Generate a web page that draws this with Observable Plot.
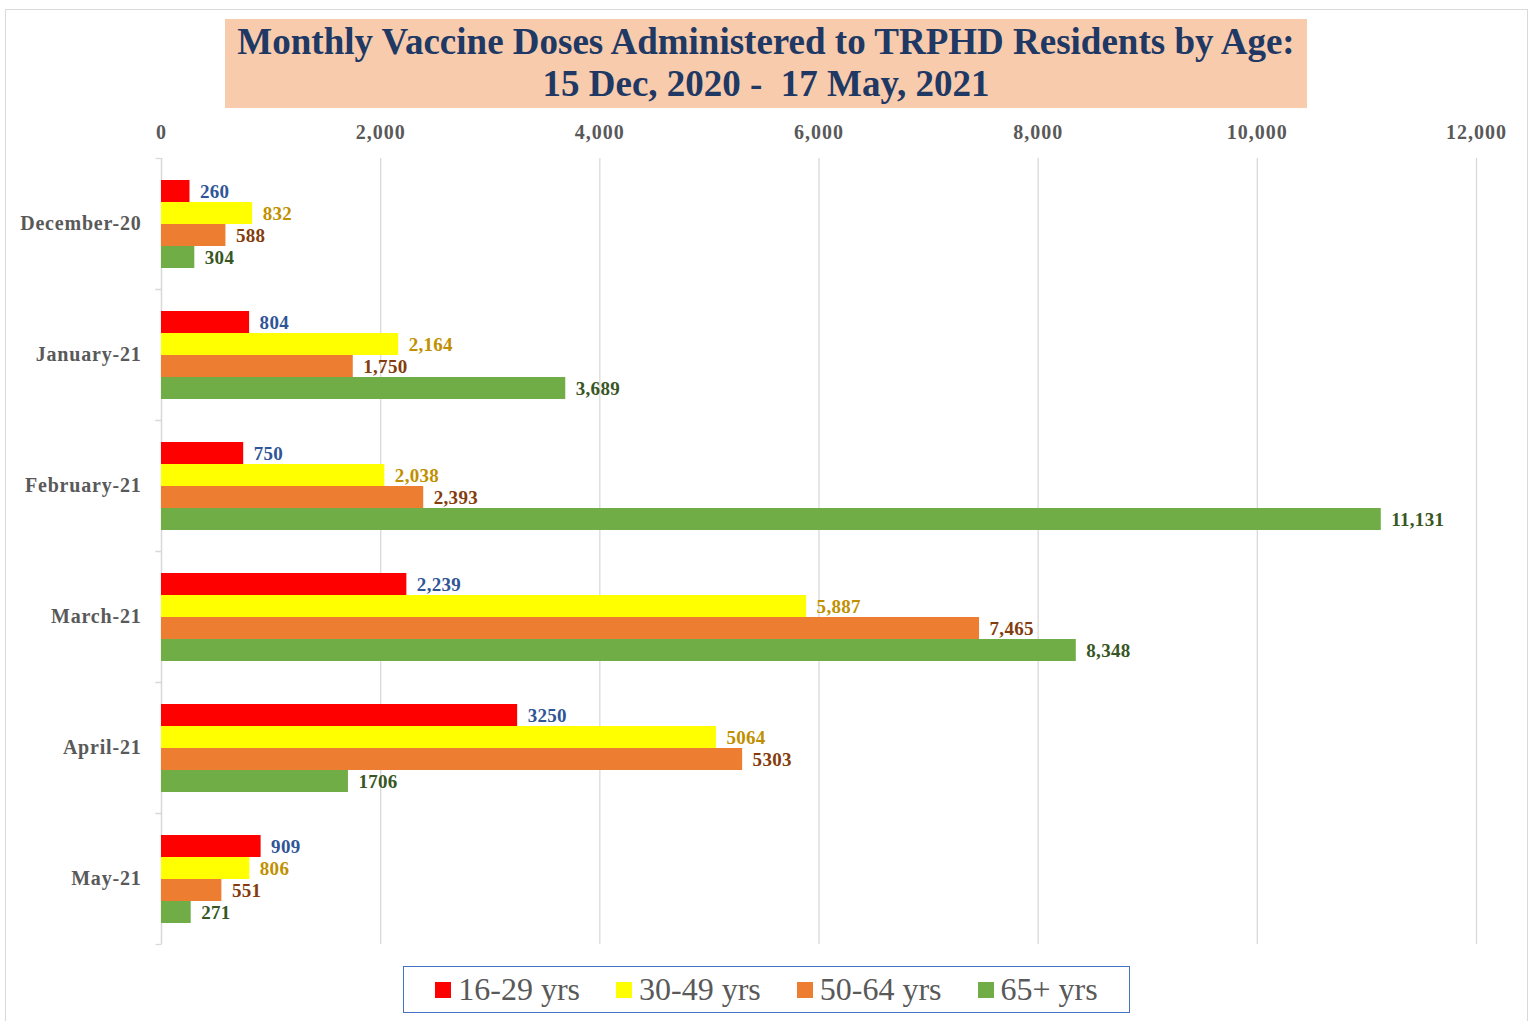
<!DOCTYPE html>
<html>
<head>
<meta charset="utf-8">
<script src="https://cdn.jsdelivr.net/npm/d3@7"></script>
<script src="https://cdn.jsdelivr.net/npm/@observablehq/plot@0.6"></script>
<style>
  html, body { margin: 0; padding: 0; background: white; }
  #wrap { position: relative; width: 1533px; height: 1021px; overflow: hidden; font-family: "Liberation Serif", "DejaVu Serif", serif; }
  #frame { position: absolute; left: 5px; top: 9px; width: 1523px; height: 1030px; border: 1px solid #d9d9d9; box-sizing: border-box; }
  #chart { position: absolute; left: 0; top: 0; }
  #title { position: absolute; left: 225px; top: 19px; width: 1082px; height: 89px; background: #F8CBAD;
           color: #203864; font-weight: bold; font-size: 37px; line-height: 42px; text-align: center;
           padding-top: 2px; box-sizing: border-box; white-space: nowrap; }
  #legend { position: absolute; left: 403px; top: 966px; width: 727px; height: 47px; border: 1px solid #4472C4;
            box-sizing: border-box; display: flex; align-items: center; justify-content: center; gap: 36px;
            font-size: 32px; color: #595959; }
  #legend .item { display: flex; align-items: center; gap: 7px; }
  #legend .sw { width: 16px; height: 16px; display: inline-block; }
  #chart svg g[aria-label="fy-axis tick label"] text { letter-spacing: 0.8px; }
  #chart svg g[aria-label="x-axis tick label"] text { letter-spacing: 1px; }
  #chart svg g[aria-label="text"] text { letter-spacing: 0.3px; }
</style>
</head>
<body>
<div id="wrap">
  <div id="frame"></div>
  <div id="chart"></div>
  <div id="title">Monthly Vaccine Doses Administered to TRPHD Residents by Age:<br>15 Dec, 2020 -&nbsp; 17 May, 2021</div>
  <div id="legend"></div>
</div>
<script>
// ---- data ----
const months = ["December-20", "January-21", "February-21", "March-21", "April-21", "May-21"];
const series = ["16-29 yrs", "30-49 yrs", "50-64 yrs", "65+ yrs"];
const age16_29 = [260, 804, 750, 2239, 3250, 909];
const age30_49 = [832, 2164, 2038, 5887, 5064, 806];
const age50_64 = [588, 1750, 2393, 7465, 5303, 551];
const age65plus = [304, 3689, 11131, 8348, 1706, 271];
const labelUsesComma = [true, true, true, true, false, true];
const xTicks = [0, 2000, 4000, 6000, 8000, 10000, 12000];

// ---- styles ----
const barColors = ["#FF0000", "#FFFF00", "#ED7D31", "#70AD47"];
const labelColors = ["#2F5597", "#BF9000", "#843C0C", "#375623"];

const valuesBySeries = [age16_29, age30_49, age50_64, age65plus];
const data = [];
months.forEach((m, i) => {
  series.forEach((s, j) => {
    const v = valuesBySeries[j][i];
    data.push({month: m, series: s, value: v, label: labelUsesComma[i] ? d3.format(",")(v) : String(v)});
  });
});

const tickSymbol = { draw(ctx) { ctx.moveTo(-6, 0); ctx.lineTo(0, 0); } };

const plot = Plot.plot({
  width: 1533,
  height: 960,
  marginLeft: 161,
  marginRight: 57,
  marginTop: 157,
  marginBottom: 15,
  style: { fontFamily: "Liberation Serif", fontSize: "18px", color: "#595959", background: "transparent" },
  x: { domain: [0, 12000], axis: null },
  y: { domain: series, paddingInner: 0, paddingOuter: 0.94, axis: null },
  fy: { domain: months, padding: 0, axis: null },
  color: { domain: series, range: barColors },
  marks: [
    Plot.gridX(xTicks, { stroke: "#d9d9d9", strokeOpacity: 1, strokeWidth: 1.3 }),
    Plot.axisX({ ticks: xTicks, anchor: "top", tickSize: 0, tickPadding: 20, tickFormat: d3.format(","),
                 fontSize: 20, fontWeight: "bold", label: null }),
    Plot.axisFy({ anchor: "left", tickSize: 0, tickPadding: 20, fontSize: 20, fontWeight: "bold", label: null }),
    Plot.ruleX([0], { stroke: "#d9d9d9", strokeWidth: 1.3 }),
    Plot.dot([0], { frameAnchor: "top-left", symbol: tickSymbol, r: 4, stroke: "#d9d9d9", strokeWidth: 1.3, fill: "none" }),
    Plot.dot([0], { frameAnchor: "bottom-left", symbol: tickSymbol, r: 4, stroke: "#d9d9d9", strokeWidth: 1.3, fill: "none" }),
    Plot.barX(data, { x: "value", y: "series", fy: "month", fill: "series" }),
    ...series.map((s, j) => Plot.text(data.filter(d => d.series === s), {
      x: "value", y: "series", fy: "month", text: "label", dx: 10, textAnchor: "start",
      fill: labelColors[j], fontWeight: "bold", fontSize: 19
    }))
  ]
});
document.getElementById("chart").appendChild(plot);

const legend = document.getElementById("legend");
series.forEach((s, j) => {
  const item = document.createElement("div");
  item.className = "item";
  const sw = document.createElement("span");
  sw.className = "sw";
  sw.style.background = barColors[j];
  const t = document.createElement("span");
  t.textContent = s;
  item.appendChild(sw);
  item.appendChild(t);
  legend.appendChild(item);
});
</script>
</body>
</html>
